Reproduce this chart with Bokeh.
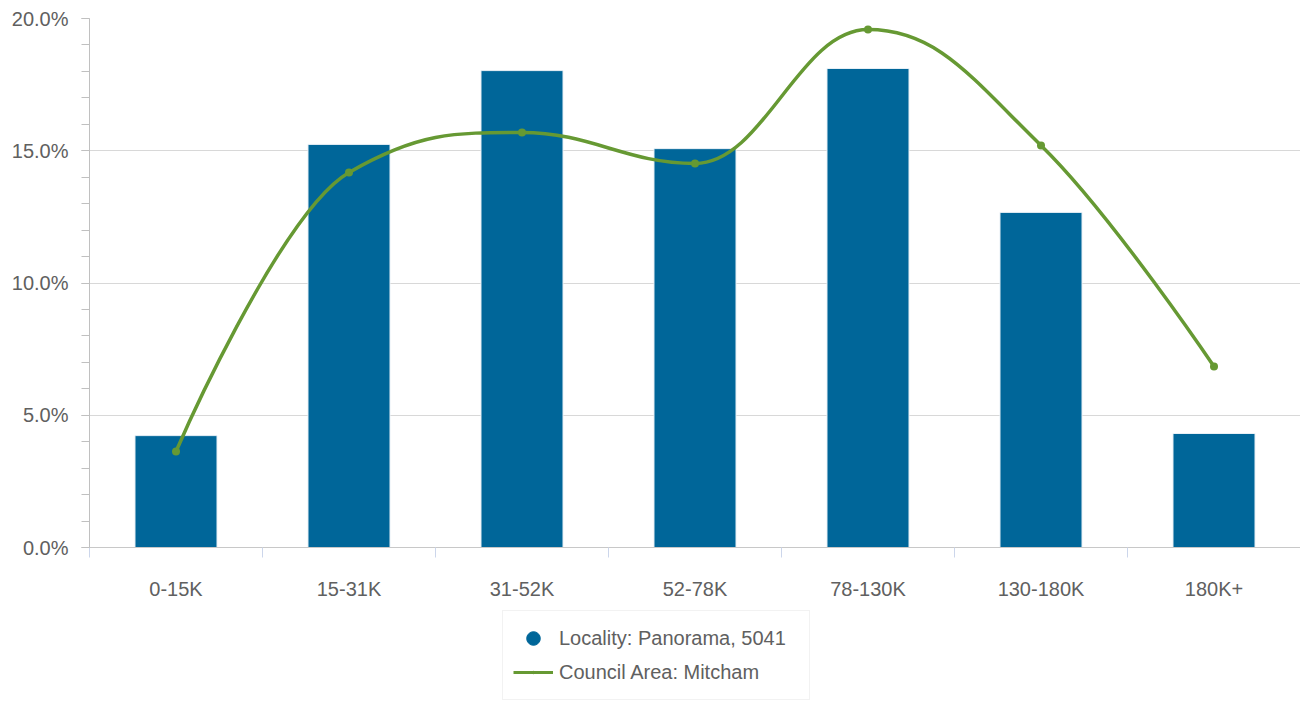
from bokeh.plotting import figure
from bokeh.layouts import column
from bokeh.models import (Range1d, FixedTicker, PrintfTickFormatter, Legend, LegendItem,
                          ColumnDataSource)
from bokeh.embed import file_html
from bokeh.resources import INLINE

categories = ["0-15K", "15-31K", "31-52K", "52-78K", "78-130K", "130-180K", "180K+"]
locality = [4.23, 15.24, 18.03, 15.08, 18.11, 12.67, 4.31]
council = [3.63, 14.18, 15.69, 14.52, 19.58, 15.20, 6.84]
series_names = ["Locality: Panorama, 5041", "Council Area: Mitcham"]
y_ticks = [0, 5, 10, 15, 20]

BLUE = "#006699"
GREEN = "#669933"
TEXT = "#606060"
FONT = "Liberation Sans"

xs = list(range(len(categories)))


def spline_segments(px, py, smoothing=1.5):
    """Highcharts-style spline control points computed from the data points."""
    n = len(px)
    denom = smoothing + 1
    lx, ly = list(px), list(py)
    rx, ry = list(px), list(py)
    for i in range(1, n - 1):
        x, y = px[i], py[i]
        lastx, lasty = px[i - 1], py[i - 1]
        nextx, nexty = px[i + 1], py[i + 1]
        lcx = (smoothing * x + lastx) / denom
        lcy = (smoothing * y + lasty) / denom
        rcx = (smoothing * x + nextx) / denom
        rcy = (smoothing * y + nexty) / denom
        if rcx != lcx:
            corr = ((rcy - lcy) * (rcx - x)) / (rcx - lcx) + y - rcy
            lcy += corr
            rcy += corr
            if lcy > lasty and lcy > y:
                lcy = max(lasty, y)
                rcy = 2 * y - lcy
            elif lcy < lasty and lcy < y:
                lcy = min(lasty, y)
                rcy = 2 * y - lcy
            if rcy > nexty and rcy > y:
                rcy = max(nexty, y)
                lcy = 2 * y - rcy
            elif rcy < nexty and rcy < y:
                rcy = min(nexty, y)
                lcy = 2 * y - rcy
        lx[i], ly[i], rx[i], ry[i] = lcx, lcy, rcx, rcy
    seg = dict(x0=[], y0=[], x1=[], y1=[], cx0=[], cy0=[], cx1=[], cy1=[])
    for i in range(1, n):
        seg["x0"].append(px[i - 1]); seg["y0"].append(py[i - 1])
        seg["cx0"].append(rx[i - 1]); seg["cy0"].append(ry[i - 1])
        seg["cx1"].append(lx[i]); seg["cy1"].append(ly[i])
        seg["x1"].append(px[i]); seg["y1"].append(py[i])
    return seg


p = figure(frame_width=1211, frame_height=529, output_backend="svg", toolbar_location=None,
           x_range=Range1d(-0.5, len(categories) - 0.5), y_range=Range1d(0, 20),
           min_border_left=89, min_border_top=18, min_border_right=0,
           min_border_bottom=50)
p.outline_line_color = None
p.background_fill_color = "white"
p.border_fill_color = "white"

# grids
p.xgrid.grid_line_color = None
p.ygrid.grid_line_color = "#d8d8d8"
p.ygrid.grid_line_width = 1

# y axis
p.yaxis.ticker = FixedTicker(ticks=y_ticks, minor_ticks=list(range(0, 21)))
p.yaxis.formatter = PrintfTickFormatter(format="%.1f%%")
p.yaxis.axis_line_color = "#c0c0c0"
p.yaxis.major_tick_line_color = "#c0c0c0"
p.yaxis.minor_tick_line_color = "#c0c0c0"
p.yaxis.major_tick_in = 0
p.yaxis.major_tick_out = 8
p.yaxis.minor_tick_in = 0
p.yaxis.minor_tick_out = 8
p.yaxis.major_label_standoff = 13
p.yaxis.major_label_text_font = FONT
p.yaxis.major_label_text_font_size = "20px"
p.yaxis.major_label_text_color = TEXT

# x axis
p.xaxis.ticker = FixedTicker(ticks=xs, minor_ticks=[i - 0.5 for i in range(len(categories) + 1)])
p.xaxis.major_label_overrides = {i: c for i, c in enumerate(categories)}
p.xaxis.axis_line_color = "#c8c8c8"
p.xaxis.major_tick_line_color = None
p.xaxis.major_tick_in = 0
p.xaxis.major_tick_out = 0
p.xaxis.minor_tick_line_color = "#ccd6eb"
p.xaxis.minor_tick_in = 0
p.xaxis.minor_tick_out = 10
p.xaxis.major_label_standoff = 20
p.xaxis.major_label_text_font = FONT
p.xaxis.major_label_text_font_size = "20px"
p.xaxis.major_label_text_color = TEXT

# bars
p.vbar(x=xs, top=locality, width=0.474, fill_color=BLUE, line_color="#e8f0f6", line_width=1)

# spline line
seg = spline_segments(xs, council)
p.bezier(source=ColumnDataSource(seg), x0="x0", y0="y0", x1="x1", y1="y1",
         cx0="cx0", cy0="cy0", cx1="cx1", cy1="cy1",
         line_color=GREEN, line_width=3.5, line_cap="round")
p.scatter(x=xs, y=council, marker="dot", size=32, line_color=GREEN, fill_color=GREEN)

# ---- legend strip (separate figure below the chart) ----
# Its ranges lie below zero, so the series drawn here stay outside its frame and
# only their legend keys show.
lg = figure(width=1300, height=107, output_backend="svg", toolbar_location=None,
            x_range=Range1d(-0.5, len(categories) - 0.5), y_range=Range1d(-2, -1),
            x_axis_location=None, y_axis_location=None,
            min_border_left=0, min_border_right=0, min_border_top=0, min_border_bottom=0)
lg.outline_line_color = None
lg.xgrid.grid_line_color = None
lg.ygrid.grid_line_color = None
lg.border_fill_color = "white"
lg.background_fill_color = "white"

key_circle = lg.scatter(x=xs, y=locality, marker="circle", fill_color=BLUE, line_color=BLUE)
key_line = lg.line(x=xs, y=council, line_color=GREEN, line_width=3)
key_dot = lg.scatter(x=xs, y=council, marker="dot", line_color=GREEN, fill_color=GREEN)

legend = Legend(items=[
    LegendItem(label=series_names[0], renderers=[key_circle]),
    LegendItem(label=series_names[1], renderers=[key_line, key_dot]),
], location=(413, 9))
legend.orientation = "vertical"
legend.label_text_font = FONT
legend.label_text_font_size = "20px"
legend.label_text_color = TEXT
legend.glyph_width = 40
legend.glyph_height = 34
legend.spacing = 0
legend.label_standoff = 6
legend.label_width = 240
legend.padding = 10
legend.margin = 0
legend.border_line_color = "#e6e6e6"
legend.border_line_width = 1
legend.background_fill_color = "white"
legend.background_fill_alpha = 1
lg.add_layout(legend, "center")

layout = column(p, lg, spacing=0)
open("out.html", "w").write(file_html(layout, INLINE))
